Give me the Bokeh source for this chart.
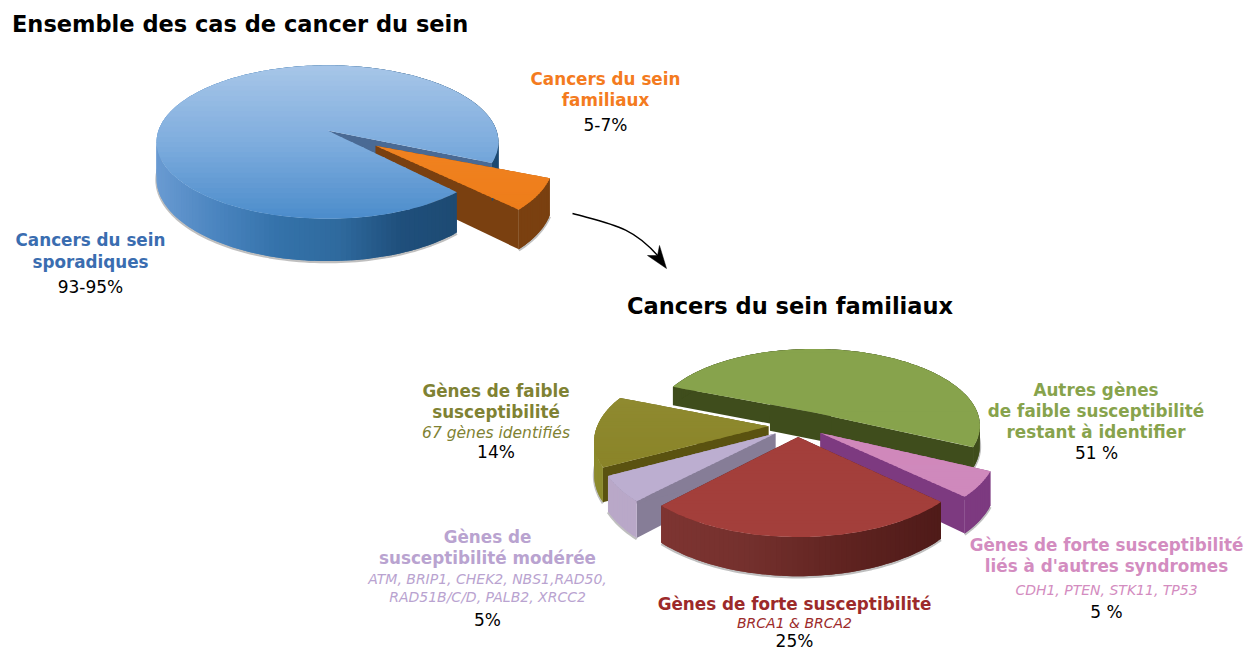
import math
from bokeh.plotting import figure
from bokeh.models import Range1d
from bokeh.embed import file_html
from bokeh.resources import INLINE
from bokeh.core.properties import value

# ---- data -----------------------------------------------------------
overview_names = ["Cancers du sein sporadiques", "Cancers du sein familiaux"]
overview_shares = [93.6, 6.4]
familial_names = ["Autres gènes", "Gènes de forte susceptibilité, syndromes",
                  "Gènes de forte susceptibilité", "Gènes de susceptibilité modérée",
                  "Gènes de faible susceptibilité"]
familial_shares = [51, 5, 25, 5, 14]

TITLES = ["Ensemble des cas de cancer du sein", "Cancers du sein familiaux"]
BOLD, REG, ITAL = 16.8, 17, 14
# text, x, y, size px, colour, style
LABELS = [
    ("Cancers du sein", 605, 78, BOLD, "#f47b20", "bold"),
    ("familiaux", 605, 99, BOLD, "#f47b20", "bold"),
    ("5-7%", 605, 124, REG, "#000000", "normal"),
    ("Cancers du sein", 90, 239, BOLD, "#3a6db0", "bold"),
    ("sporadiques", 90, 261, BOLD, "#3a6db0", "bold"),
    ("93-95%", 90, 286, REG, "#000000", "normal"),
    ("Gènes de faible", 495.5, 390, BOLD, "#7f8233", "bold"),
    ("susceptibilité", 495.5, 411, BOLD, "#7f8233", "bold"),
    ("67 gènes identifiés", 495.5, 432, 15.5, "#7f8233", "italic"),
    ("14%", 495.5, 451, REG, "#000000", "normal"),
    ("Autres gènes", 1095.5, 389, BOLD, "#87a34c", "bold"),
    ("de faible susceptibilité", 1095.5, 410, BOLD, "#87a34c", "bold"),
    ("restant à identifier", 1095.5, 431, BOLD, "#87a34c", "bold"),
    ("51 %", 1096, 452, REG, "#000000", "normal"),
    ("Gènes de", 487, 536, BOLD, "#b9a3d0", "bold"),
    ("susceptibilité modérée", 487, 557, BOLD, "#b9a3d0", "bold"),
    ("ATM, BRIP1, CHEK2, NBS1,RAD50,", 487, 578, ITAL, "#b9a3d0", "italic"),
    ("RAD51B/C/D, PALB2, XRCC2", 487, 596, ITAL, "#b9a3d0", "italic"),
    ("5%", 487, 619, REG, "#000000", "normal"),
    ("Gènes de forte susceptibilité", 794, 603, BOLD, "#9c2a2a", "bold"),
    ("BRCA1 & BRCA2", 794, 622, ITAL, "#9c2a2a", "italic"),
    ("25%", 794, 640, REG, "#000000", "normal"),
    ("Gènes de forte susceptibilité", 1106, 544, BOLD, "#d38cc0", "bold"),
    ("liés à d'autres syndromes", 1106, 565, BOLD, "#d38cc0", "bold"),
    ("CDH1, PTEN, STK11, TP53", 1106, 589, ITAL, "#d38cc0", "italic"),
    ("5 %", 1106, 611, REG, "#000000", "normal"),
]

# ---- helpers --------------------------------------------------------
def hex2rgb(h):
    return tuple(int(h[i:i + 2], 16) for i in (1, 3, 5))

def ramp(stops, t):
    t = max(0.0, min(1.0, t))
    pos = t * (len(stops) - 1)
    i = min(int(pos), len(stops) - 2)
    f = pos - i
    a, b = hex2rgb(stops[i]), hex2rgb(stops[i + 1])
    return "#%02x%02x%02x" % tuple(round(a[j] + (b[j] - a[j]) * f) for j in range(3))

def clip_band(poly, y0, y1):
    def clip(pts, keep, cross):
        out = []
        for i, p in enumerate(pts):
            q = pts[(i + 1) % len(pts)]
            if keep(p):
                out.append(p)
            if keep(p) != keep(q):
                out.append(cross(p, q))
        return out
    def at(y):
        return lambda p, q: (p[0] + (q[0] - p[0]) * (y - p[1]) / (q[1] - p[1]), y)
    r = clip(poly, lambda p: p[1] >= y0, at(y0))
    if r:
        r = clip(r, lambda p: p[1] <= y1, at(y1))
    return r

class Pie:
    def __init__(self, cx, cy, rx, ry, k, depth):
        self.cx, self.cy, self.rx, self.ry, self.k, self.depth = cx, cy, rx, ry, k, depth
    def top(self, u, v):
        s = 1 / (1 - self.k * v)
        return (self.cx + self.rx * u * s, self.cy + self.ry * v * s)
    def low(self, u, v, f=1.0):
        x, y = self.top(u, v)
        return (x, y + f * self.depth / (1 - self.k * v))

xs, ys, cols = [], [], []
sx, sy = [], []
def add(poly, col):
    xs.append([p[0] for p in poly])
    ys.append([p[1] for p in poly])
    cols.append(col)

def slice3d(pie, a0, a1, off, rad, top_stops, wall_stops, wall_range, e0, e1, f=1.0, parts="eat"):
    """a0..a1 degrees clockwise on screen; off = disc offset of the wedge.
    parts: e = straight walls, a = curved wall, t = top face."""
    du, dv = off
    n = max(6, int((a1 - a0) / 1.5))
    ang = [math.radians(a0 + (a1 - a0) * i / n) for i in range(n + 1)]
    rim = [(du + rad * math.cos(a), dv + rad * math.sin(a)) for a in ang]
    apex = (du, dv)
    if "a" in parts:
        # soft shadow under the front of the wall
        front = [pie.low(*r, f) for r, a in zip(rim, ang) if math.sin(a) > -.1]
        if front:
            sx.append([q[0] for q in front])
            sy.append([q[1] + 1 for q in front])
    if "e" in parts:
        for (corner, colour) in ((rim[0], e0), (rim[-1], e1)):
            add([pie.top(*apex), pie.top(*corner), pie.low(*corner, f), pie.low(*apex, f)], colour)
    if "a" in parts:
        # curved wall, shaded along the screen x, each piece overlapping the next
        for i in range(n):
            q0, q1 = rim[i], rim[min(i + 2, n)]
            xm = (pie.top(*rim[i])[0] + pie.top(*rim[i + 1])[0]) / 2
            t = (xm - wall_range[0]) / (wall_range[1] - wall_range[0])
            add([pie.top(*q0), pie.top(*rim[i + 1]), pie.top(*q1), pie.low(*q1, f), pie.low(*rim[i + 1], f), pie.low(*q0, f)],
                ramp(wall_stops, t))
    if "t" in parts:
        # top face, shaded down the screen, each band overlapping the next
        poly = [pie.top(*apex)] + [pie.top(*r) for r in rim]
        y_min, y_max = min(q[1] for q in poly), max(q[1] for q in poly)
        bands = 30
        for b in range(bands):
            y0 = y_min + (y_max - y_min) * b / bands
            y1 = y_min + (y_max - y_min) * (b + 1) / bands + 1.0
            part = clip_band(poly, y0, y1)
            if len(part) >= 3:
                add(part, ramp(top_stops, (b + .5) / bands))

# ---- figure ---------------------------------------------------------
W, H = 1257, 651
p = figure(width=W, height=H, x_range=Range1d(0, W), y_range=Range1d(H, 0),
           output_backend="svg", toolbar_location=None, min_border=0,
           outline_line_color=None, background_fill_color="white")
p.axis.visible = False
p.grid.visible = False

# overview pie: the blue top hides the inner part of the orange wall
big = Pie(327, 130, 169, 75, .15, 36)
span = [s * 3.6 for s in overview_shares]
fam_start = 24.0
fam_end = fam_start + span[1]
blue = dict(top_stops=["#a7c6e8", "#7fadde", "#4b8ccb"],
            wall_stops=["#6a9bd2", "#4a84bf", "#3472aa", "#2f6a9e", "#1f4f7c", "#1d4a72"],
            wall_range=(156, 460), e0="#4a6a94", e1="#4a6a94")
orange = dict(top_stops=["#f08220", "#ee7d1a"], wall_stops=["#7a4010", "#7a4010"],
              wall_range=(400, 560), e0="#7a4010", e1="#7a4010", f=.95)
mid = math.radians((fam_start + fam_end) / 2)
orange_off = (.34 * math.cos(mid), .34 * math.sin(mid))
slice3d(big, fam_end, fam_end + span[0], (0, 0), 1, parts="e", **blue)
slice3d(big, fam_start - 1.5, fam_end - 1.5, orange_off, 1, parts="ea", **orange)
slice3d(big, fam_end, fam_end + span[0], (0, 0), 1, parts="at", **blue)
slice3d(big, fam_start - 1.5, fam_end - 1.5, orange_off, 1, parts="t", **orange)

# familial pie
small = Pie(797, 425, 171, 80, .16, 32)
styles = [
    dict(off=(.11, -.16), rad=.97, f=.62, top=["#87a34c", "#87a34c"], wall=["#3f4d1c", "#3f4d1c"], e0="#3f4d1c", e1="#3f4d1c"),
    dict(off=None, d=.16, rad=1, f=1, top=["#d088bb", "#cf89bc"], wall=["#7d3a80", "#7d3a80"], e0="#7d3a80", e1="#7d3a80"),
    dict(off=None, d=.14, rad=1, f=1, top=["#a33f3b", "#a33f3b"], wall=["#7f3532", "#74302d", "#5f2320", "#4e1a18"], e0="#5a201e", e1="#5a201e"),
    dict(off=None, d=.16, rad=1, f=1, top=["#bcaed0", "#bcaed0"], wall=["#b9a8c8", "#b0a0c0"], e0="#867d97", e1="#867d97"),
    dict(off=None, d=.17, rad=1, f=1, top=["#8f8a30", "#8a8428"], wall=["#8c8a2d", "#8c8a2d"], e0="#5a5210", e1="#5a5210"),
]
start = 202.0
bounds = []
for s, st in zip(familial_shares, styles):
    bounds.append((start, start + s * 3.6, st))
    start += s * 3.6
for idx in (0, 4, 3, 1, 2):   # painter's order, back to front
    a0, a1, st = bounds[idx]
    if st["off"] is None:
        m = math.radians((a0 + a1) / 2)
        off = (st["d"] * math.cos(m), st["d"] * math.sin(m))
    else:
        off = st["off"]
    slice3d(small, a0, a1, off, st["rad"], st["top"], st["wall"], (650, 945), st["e0"], st["e1"], st["f"])
    if idx == 0:
        # dark hub that joins the green wedge to the exploded ones
        e0, e1 = math.radians(a0), math.radians(a1)
        h0 = (off[0] + .3 * math.cos(e0), off[1] + .3 * math.sin(e0))
        h1 = (off[0] + .1 * math.cos(e1), off[1] + .1 * math.sin(e1))
        add([small.top(*h0), small.top(*off), small.top(*h1), small.low(*h1, .85), small.low(*h0, .85)], "#3f4d1c")

p.multi_line(sx, sy, line_color="#8a8a8a", line_alpha=.55, line_width=2.5)
p.patches(xs, ys, fill_color=cols, line_color=None)

# arrow
p.bezier(x0=[572], y0=[213], x1=[658], y1=[256], cx0=[612], cy0=[224], cx1=[632], cy1=[226],
         line_color="black", line_width=1.4)
p.patch([666, 659, 657, 647], [268, 245, 255, 255], fill_color="black", line_color="black", line_width=0.5)

# titles
p.text(x=[11.5], y=[23.5], text=[TITLES[0]], text_font=value("DejaVu Sans"), text_font_style="bold",
       text_font_size="22.5px", text_align="left", text_baseline="middle", text_color="black")
p.text(x=[789.5], y=[305.5], text=[TITLES[1]], text_font=value("DejaVu Sans"), text_font_style="bold",
       text_font_size="22.5px", text_align="center", text_baseline="middle", text_color="black")
for t, x, y, size, colour, style in LABELS:
    p.text(x=[x], y=[y], text=[t], text_font=value("DejaVu Sans"), text_font_style=style,
           text_font_size=f"{size}px", text_align="center", text_baseline="middle", text_color=colour)

open("out.html", "w").write(file_html(p, INLINE))
